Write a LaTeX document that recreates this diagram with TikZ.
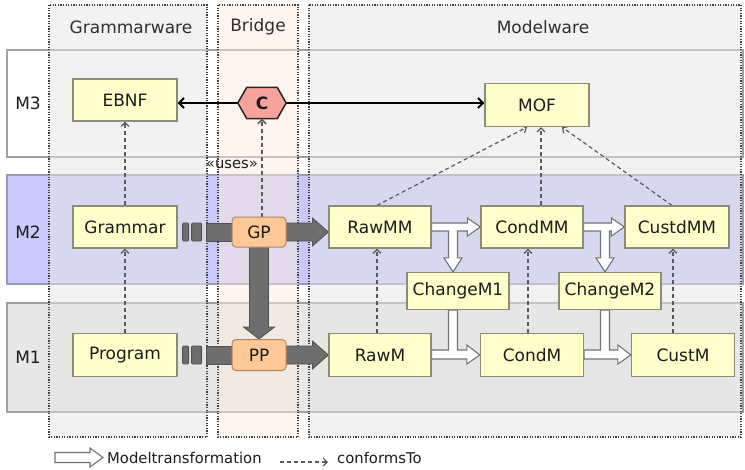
\documentclass[tikz,border=0pt]{standalone}
\usepackage{fontspec}
\setmainfont{DejaVu Sans}
\usetikzlibrary{calc,arrows.meta}
\pgfdeclarelayer{bg}
\pgfdeclarelayer{mid}
\pgfsetlayers{bg,mid,main}

\definecolor{nodefill}{HTML}{FFFFCC}
\definecolor{nodeline}{HTML}{8C8C78}
\definecolor{procfill}{HTML}{FFC896}
\definecolor{procline}{HTML}{B08660}
\definecolor{hexfill}{HTML}{F7A39C}
\definecolor{colgray}{HTML}{E6E6E6}
\definecolor{colpeach}{HTML}{FBEBDD}
\definecolor{rowblue}{HTML}{C9C9FB}
\definecolor{rowblueline}{HTML}{9A9AB8}
\definecolor{rowgray}{HTML}{E8E8E8}
\definecolor{rowline}{HTML}{A0A0A0}
\definecolor{fatgray}{HTML}{6E6E6E}
\definecolor{fatline}{HTML}{505050}
\definecolor{txt}{HTML}{1C1C1C}

\newcommand\nodefont{\fontsize{17}{20}\selectfont}
\newcommand\smallfont{\fontsize{14.8}{17}\selectfont}

% white model-transformation arrow that also branches down to a change model
\newcommand\splitarrow[3]{%
  \coordinate (sa-e) at (#1.east);
  \coordinate (sa-w) at (#2.west |- #1.east);
  \coordinate (sa-n) at ($(#3.north)+(-5,0)$);
  \coordinate (sa-k) at (sa-n |- sa-e);
  \filldraw[mtrans] ($(sa-e)+(0,-4)$) -- ($(sa-w)+(-13,-4)$) -- ($(sa-w)+(-13,-9)$) -- (sa-w)
    -- ($(sa-w)+(-13,9)$) -- ($(sa-w)+(-13,4)$) -- ($(sa-k)+(4.5,4)$) -- ($(sa-n)+(4.5,-14)$)
    -- ($(sa-n)+(9,-14)$) -- (sa-n) -- ($(sa-n)+(-9,-14)$) -- ($(sa-n)+(-4.5,-14)$)
    -- ($(sa-k)+(-4.5,4)$) -- ($(sa-e)+(0,4)$) -- cycle;
}
% white model-transformation arrow joined by a change model from above
\newcommand\mergearrow[3]{%
  \coordinate (ma-e) at (#1.east);
  \coordinate (ma-w) at (#2.west |- #1.east);
  \coordinate (ma-s) at ($(#3.south)+(-5,0)$);
  \coordinate (ma-k) at (ma-s |- ma-e);
  \filldraw[mtrans] ($(ma-e)+(0,-5)$) -- ($(ma-k)+(-4.5,-5)$) -- ($(ma-s)+(-4.5,0)$)
    -- ($(ma-s)+(4.5,0)$) -- ($(ma-k)+(4.5,-5)$) -- ($(ma-w)+(-13,-5)$) -- ($(ma-w)+(-13,-10)$)
    -- (ma-w) -- ($(ma-w)+(-13,9)$) -- ($(ma-w)+(-13,4)$) -- ($(ma-e)+(0,4)$) -- cycle;
}
% thick grey arrow between two nodes, horizontal
\newcommand\fatright[2]{%
  \coordinate (fr-a) at (#1.east);
  \coordinate (fr-b) at (#2.west |- #1.east);
  \filldraw[fat] ($(fr-a)+(-2,-9)$) -- ($(fr-b)+(-16,-9)$) -- ($(fr-b)+(-16,-14)$) -- (fr-b)
    -- ($(fr-b)+(-16,14)$) -- ($(fr-b)+(-16,9)$) -- ($(fr-a)+(-2,9)$) -- cycle;
}
% broken start of a thick grey arrow coming out of a grammarware node
\newcommand\fatstub[2]{%
  \coordinate (fs-a) at (#1.east |- #2.west);
  \filldraw[fat,rounded corners=1pt] ($(fs-a)+(5,-9)$) rectangle ($(fs-a)+(11,9)$);
  \filldraw[fat,rounded corners=1pt] ($(fs-a)+(14,-9)$) rectangle ($(fs-a)+(24,9)$);
  \filldraw[fat] ($(fs-a)+(29,-9)$) rectangle ($(#2.west)+(2,9)$);
}

\tikzset{
  box/.style={draw=nodeline, fill=nodefill, line width=1.2pt, minimum width=104pt,
    minimum height=42pt, inner sep=0pt, text=txt, font=\nodefont},
  proc/.style={draw=procline, fill=procfill, line width=1pt, rounded corners=4pt,
    minimum width=54pt, minimum height=30pt, inner sep=0pt, text=txt, font=\nodefont},
  hexa/.style={draw=black!85, fill=hexfill, line width=1.5pt, line join=round},
  conf/.style={draw=black!65, line width=1.2pt, dash pattern=on 4pt off 3pt,
    -{Straight Barb[length=4pt,width=8pt]}},
  mtrans/.style={draw=black!55, fill=white, line width=1.1pt},
  fat/.style={draw=fatline, fill=fatgray, line width=0.8pt},
  colfill/.style={fill=#1, fill opacity=0.5},
  colline/.style={draw=black!75, line width=1.2pt, dash pattern=on 1.2pt off 1.4pt},
  rowbox/.style={draw=rowline, line width=1.3pt},
  head/.style={text=black!82, font=\nodefont},
  rowlabel/.style={text=txt, font=\nodefont},
}

\begin{document}
\begin{tikzpicture}[x=1pt, y=-1pt]
\useasboundingbox (0,0) rectangle (745,469);

% ---------- nodes ----------
\node[box] (EBNF) at (125,100) {EBNF};
\node[minimum width=48pt, minimum height=31pt, inner sep=0pt, font=\nodefont\bfseries, text=txt] (C) at (262,103) {C};
\node[box, minimum height=43pt] (MOF) at (537,105) {MOF};

\node[box] (Grammar) at (125,227) {Grammar};
\node[proc] (GP) at (259,232) {GP};
\node[box, minimum width=102pt] (RawMM) at (380,227) {RawMM};
\node[box, minimum width=102pt] (CondMM) at (532,227) {CondMM};
\node[box] (CustdMM) at (677,227) {CustdMM};

\node[box, minimum width=102pt, minimum height=37pt] (ChangeM1) at (458,291) {ChangeM1};
\node[box, minimum width=102pt, minimum height=37pt] (ChangeM2) at (610,291) {ChangeM2};

\node[box, minimum height=43pt] (Program) at (125,355) {Program};
\node[proc, minimum height=31pt] (PP) at (259,355) {PP};
\node[box, minimum width=102pt, minimum height=43pt] (RawM) at (380,355) {RawM};
\node[box, minimum width=103pt, minimum height=43pt] (CondM) at (532,355) {CondM};
\node[box, minimum width=103pt, minimum height=43pt] (CustM) at (683,355) {CustM};

% headers and level labels
\node[head] (hG) at (131,27) {Grammarware};
\node[head] (hB) at (258,27) {Bridge};
\node[head] (hM) at (543,27) {Modelware};
\node[rowlabel] (l3) at (28,103) {M3};
\node[rowlabel] (l2) at (28,232) {M2};
\node[rowlabel] (l1) at (28,357) {M1};
\node[text=txt, font=\smallfont] (uses) at (232,164) {«uses»};

% legend
\coordinate (lg1) at (55,457.5);
\coordinate (lg2) at (103,457.5);
\coordinate (lg3) at (280,462);
\coordinate (lg4) at (328,462);
\node[anchor=west, inner sep=0pt, text=txt, font=\smallfont] (lgt1) at (107,457.5) {Modeltransformation};
\node[anchor=west, inner sep=0pt, text=txt, font=\smallfont] (lgt2) at (337,457.5) {conformsTo};

% ---------- connectors ----------
\begin{pgfonlayer}{mid}
  % bridge between EBNF and MOF
  \draw[line width=2pt, {Straight Barb[length=5pt,width=10pt]}-{Straight Barb[length=5pt,width=10pt]}]
    (EBNF.east |- C) -- (MOF.west |- C);
  \filldraw[hexa] (C.west) -- ($(C.north west)+(9,0)$) -- ($(C.north east)+(-9,0)$) -- (C.east)
    -- ($(C.south east)+(-9,0)$) -- ($(C.south west)+(9,0)$) -- cycle;

  % conformsTo
  \draw[conf] (Grammar.north) -- (EBNF.south);
  \draw[conf] (Program.north) -- (Grammar.south);
  \draw[conf, line width=1.5pt] (GP.north -| C.south) -- (C.south);
  \draw[conf] ([xshift=-3pt]RawMM.north) -- ([xshift=-10pt]MOF.south);
  \draw[conf] ([xshift=4pt]MOF.south |- CondMM.north) -- ([xshift=4pt]MOF.south);
  \draw[conf] ([xshift=-5pt]CustdMM.north) -- ([xshift=25pt]MOF.south);
  \draw[conf] ([xshift=-3pt]RawM.north) -- ([xshift=-3pt]RawMM.south);
  \draw[conf] ([xshift=-4pt]CondM.north) -- ([xshift=-4pt]CondMM.south);
  \draw[conf] ([xshift=-4pt]CustdMM.south |- CustM.north) -- ([xshift=-4pt]CustdMM.south);

  % grammarware to modelware bridge (thick grey)
  \fatstub{Grammar}{GP}
  \fatstub{Program}{PP}
  \fatright{GP}{RawMM}
  \fatright{PP}{RawM}
  \filldraw[fat] ($(GP.south)+(-9.5,-2)$) -- ($(PP.north)+(-9.5,-12)$) -- ($(PP.north)+(-15.5,-12)$)
    -- (PP.north) -- ($(PP.north)+(15.5,-12)$) -- ($(PP.north)+(9.5,-12)$)
    -- ($(GP.south)+(9.5,-2)$) -- cycle;

  % model transformations
  \splitarrow{RawMM}{CondMM}{ChangeM1}
  \splitarrow{CondMM}{CustdMM}{ChangeM2}
  \mergearrow{RawM}{CondM}{ChangeM1}
  \mergearrow{CondM}{CustM}{ChangeM2}

  % legend symbols
  \filldraw[mtrans] ($(lg1)+(0,-5)$) -- ($(lg2)+(-13,-5)$) -- ($(lg2)+(-13,-9.5)$) -- (lg2)
    -- ($(lg2)+(-13,9.5)$) -- ($(lg2)+(-13,5)$) -- ($(lg1)+(0,5)$) -- cycle;
  \draw[conf] (lg3) -- (lg4);
\end{pgfonlayer}

% ---------- levels and technical spaces ----------
\begin{pgfonlayer}{bg}
  \draw[rowbox] (7,50) rectangle (743,157);
  \filldraw[rowbox, draw=rowblueline, fill=rowblue] (7,175) rectangle (743,284);
  \filldraw[rowbox, fill=rowgray] (7,303) rectangle (743,412);

  \path[colfill=colgray] (49,5) rectangle (207,437);
  \path[colfill=colpeach] (218,5) rectangle (298,437);
  \path[colfill=colgray] (309,5) rectangle (741,437);
  \draw[colline] (49,5) rectangle (207,437);
  \draw[colline] (218,5) rectangle (298,437);
  \draw[colline] (309,5) rectangle (741,437);
\end{pgfonlayer}
\end{tikzpicture}
\end{document}
